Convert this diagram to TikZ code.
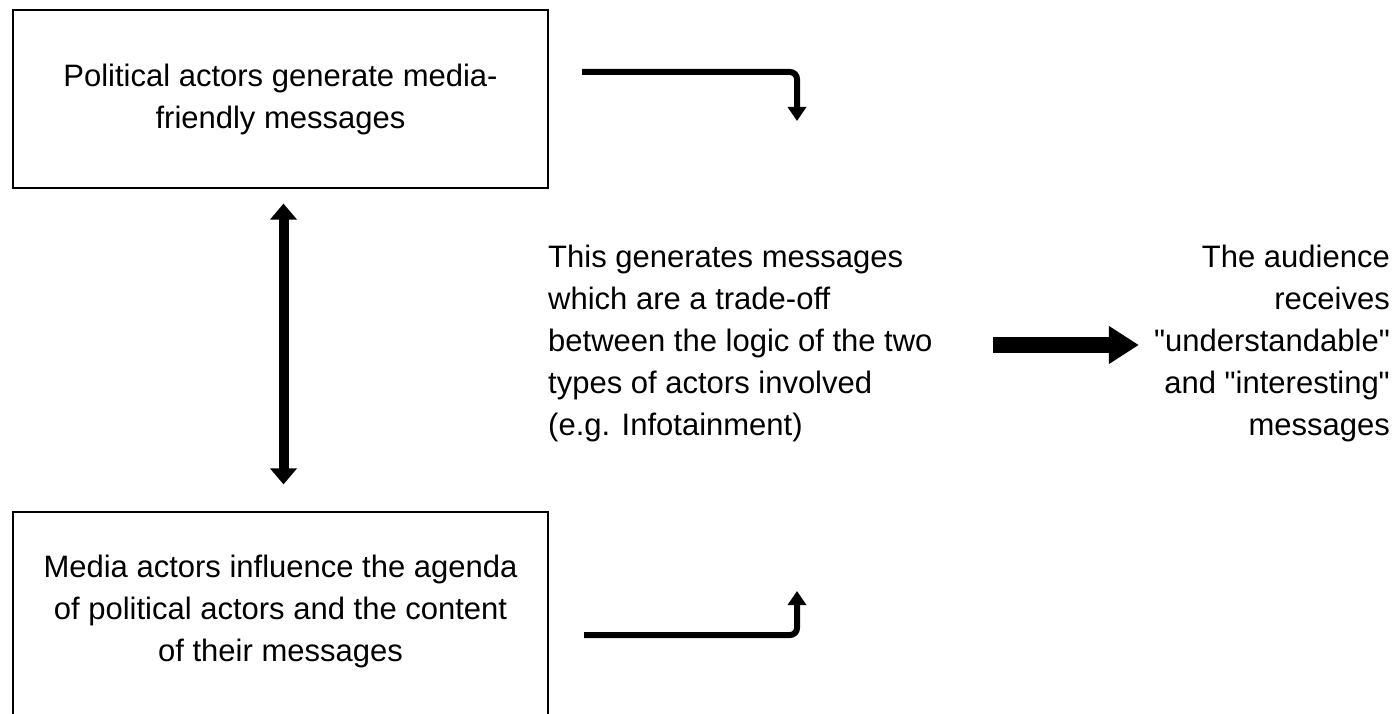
\documentclass[tikz,border=0pt]{standalone}
\usepackage{fontspec}
\setmainfont{Liberation Sans}
\usetikzlibrary{arrows.meta}

\tikzset{
    actorbox/.style={draw, line width=1.2pt, minimum width=535pt, inner sep=0pt},
    txt/.style={font=\fontsize{31}{42}\selectfont, inner sep=0pt},
    elbow/.style={line width=6pt, rounded corners=7pt, -{Triangle[width=18pt,length=14pt]}},
}

\begin{document}
\begin{tikzpicture}[x=1pt,y=-1pt]
\useasboundingbox (0,0) rectangle (1400,714);
\clip (0,0) rectangle (1400,714);

\node[actorbox, minimum height=178pt] (political) at (280.5,99) {};
\node[txt, align=center] (politicaltext) at (political) {Political actors generate media-\\friendly messages};

\node[actorbox, minimum height=240pt] (media) at (280.5,632) {};
\node[txt, align=center] (mediatext) at (280.5,611) {Media actors influence the agenda\\of political actors and the content\\of their messages};

\node[txt, align=left, anchor=west] (logic) at (548,343) {This generates messages\\which are a trade-off\\between the logic of the two\\types of actors involved\\(e.g. Infotainment)};
\node[txt, align=right, anchor=east] (audience) at (1390,343) {The audience\\receives\\\textquotedbl understandable\textquotedbl\\and \textquotedbl interesting\textquotedbl\\messages};

% double arrow between the actors
\draw[line width=10pt, {Triangle[width=26pt,length=16pt]}-{Triangle[width=26pt,length=16pt]}]
    ([xshift=3pt,yshift=-15pt]political.south) -- ([xshift=3pt,yshift=27pt]media.north);

% the two elbows into the trade-off
\coordinate (topstart) at (582,72);
\coordinate (topend) at (797,121);
\coordinate (botstart) at (584,635);
\coordinate (botend) at (797,591);
\draw[elbow] (topstart) -| (topend);
\draw[elbow] (botstart) -| (botend);

% result
\draw[line width=16pt, -{Triangle[width=36pt,length=30pt]}]
    (993,345) -- ([xshift=-15pt]audience.west |- 0,345);
\end{tikzpicture}
\end{document}
